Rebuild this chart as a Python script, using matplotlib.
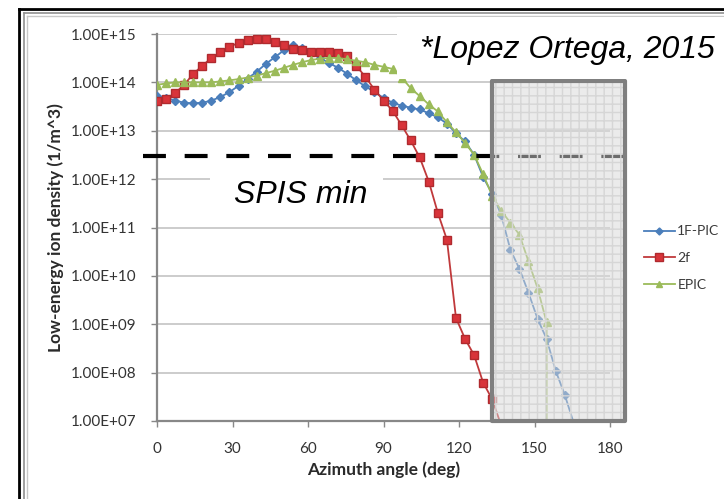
import matplotlib
matplotlib.use("Agg")
import matplotlib.pyplot as plt
from matplotlib.patches import Rectangle
from matplotlib.lines import Line2D
from matplotlib.ticker import FuncFormatter

# azimuth angle (deg), one sample every 3.6 deg
angle = [0.0, 3.6, 7.2, 10.8, 14.4, 18.0, 21.6, 25.2, 28.8, 32.4,
         36.0, 39.6, 43.2, 46.8, 50.4, 54.0, 57.6, 61.2, 64.8, 68.4,
         72.0, 75.6, 79.2, 82.8, 86.4, 90.0, 93.6, 97.2, 100.8, 104.4,
         108.0, 111.6, 115.2, 118.8, 122.4, 126.0, 129.6, 133.2, 136.8, 140.4,
         144.0, 147.6, 151.2, 154.8, 158.4, 162.0, 165.6]

pic_1f = [5.2e13, 4.8e13, 4.2e13, 3.8e13, 3.7e13, 3.8e13, 4.2e13, 5.0e13, 6.3e13, 8.5e13,
          1.2e14, 1.66e14, 2.4e14, 3.3e14, 4.6e14, 5.8e14, 5.2e14, 4.2e14, 3.2e14, 2.5e14,
          2.0e14, 1.5e14, 1.1e14, 8.3e13, 6.3e13, 4.8e13, 3.8e13, 3.3e13, 3.0e13, 2.75e13,
          2.3e13, 1.9e13, 1.4e13, 8.9e12, 6.0e12, 3.2e12, 1.1e12, 5.0e11, 1.8e11, 3.5e10,
          1.4e10, 4.5e9, 1.3e9, 5.0e8, 1.1e8, 3.5e7, 9e6]

fluid_2f = [4.2e13, 4.6e13, 6.0e13, 8.9e13, 1.5e14, 2.2e14, 3.2e14, 4.2e14, 5.4e14, 6.6e14,
            7.6e14, 7.9e14, 7.8e14, 6.9e14, 5.9e14, 5.0e14, 4.6e14, 4.3e14, 4.2e14, 4.2e14,
            4.1e14, 3.5e14, 2.2e14, 1.3e14, 7.1e13, 4.2e13, 2.6e13, 1.3e13, 6.3e12, 2.8e12,
            8.9e11, 2.0e11, 5.6e10, 1.35e9, 5.0e8, 2.3e8, 6.2e7, 2.8e7, 8e6]

epic = [8.9e13, 9.5e13, 1.0e14, 1.0e14, 1.0e14, 1.0e14, 1.0e14, 1.05e14, 1.1e14, 1.17e14,
        1.26e14, 1.38e14, 1.55e14, 1.74e14, 2.0e14, 2.3e14, 2.6e14, 2.9e14, 3.1e14, 3.2e14,
        3.2e14, 3.0e14, 2.8e14, 2.6e14, 2.3e14, 2.1e14, 1.9e14, 1.26e14, 7.6e13, 5.2e13,
        3.5e13, 2.5e13, 1.5e13, 9.3e12, 5.6e12, 3.2e12, 1.26e12, 4.5e11, 2.2e11, 1.26e11,
        7.1e10, 2.0e10, 5.6e9, 1.1e9, 1e4]
epic_angle = angle[:44] + [154.8]

spis_min = 3e12
shade_from = 133.0
series_labels = ["1F-PIC", "2f", "EPIC"]

W, H = 724, 499
fig = plt.figure(figsize=(W / 100, H / 100), dpi=100)

def fx(px):
    return px / W

def fy(py):
    return 1 - py / H

# outer frame lines (black + double gray)
for x, y, c, lw in [(18.5, 8.5, "black", 2.0), (24, 13, "#909090", 1.2), (27, 15.5, "#c8c8c8", 1.0)]:
    fig.add_artist(Line2D([fx(x), fx(x)], [fy(y), 0], color=c, lw=lw))
    fig.add_artist(Line2D([fx(x), 1], [fy(y), fy(y)], color=c, lw=lw))

ax = fig.add_axes([fx(157), fy(421), fx(610 - 157), (421 - 34) / H])

tick_font = dict(family="Lato", size=11, color="#333333")
label_font = dict(family="Lato", size=12.5, weight="bold", color="#2a2a2a")

ax.plot(angle[:len(pic_1f)], pic_1f, color="#4a7ebb", marker="D", ms=4.2, lw=1.3,
        mec="#4a7ebb", zorder=3, label=series_labels[0])
ax.plot(angle[:len(fluid_2f)], fluid_2f, color="#c0393b", marker="s", ms=6, lw=1.3,
        mfc="#d8343a", mec="#b02a2e", zorder=3, label=series_labels[1])
ax.plot(epic_angle, epic, color="#9bbb59", marker="^", ms=5.5, lw=1.3,
        mec="#9bbb59", zorder=3, label=series_labels[2])

ax.set_yscale("log")
ax.set_xlim(0, 180)
ax.set_ylim(1e7, 1e15)
ax.set_xticks(range(0, 181, 30))
ax.set_yticks([10.0 ** k for k in range(7, 16)])
ax.minorticks_off()
ax.yaxis.set_major_formatter(FuncFormatter(lambda v, p: f"{v:.2E}"))
ax.tick_params(axis="both", direction="out", length=4, width=1, color="#888888")
ax.tick_params(axis="y", pad=11)
ax.tick_params(axis="x", pad=11)
for lab in ax.get_xticklabels() + ax.get_yticklabels():
    lab.set_fontfamily(tick_font["family"])
    lab.set_fontsize(tick_font["size"])
    lab.set_color(tick_font["color"])

ax.yaxis.grid(True, color="#cccccc", lw=1.4)
ax.set_axisbelow(True)
for s in ["top", "right"]:
    ax.spines[s].set_visible(False)
for s in ["left", "bottom"]:
    ax.spines[s].set_color("#888888")
    ax.spines[s].set_linewidth(1.6)

ax.set_xlabel("Azimuth angle (deg)", labelpad=4, **label_font)
ax.set_ylabel("Low-energy ion density (1/m^3)", labelpad=5, **label_font)

# SPIS minimum dashed line
ax.plot([-5.6, 186], [spis_min, spis_min], color="black", lw=3, dashes=(5.5, 4.5),
        dash_capstyle="butt", clip_on=False, zorder=4)

# shaded region
top = 1.07e14
ax.add_patch(Rectangle((shade_from, 1e7), 186 - shade_from, top - 1e7,
                       facecolor=(0.85, 0.85, 0.85, 0.5), edgecolor="none",
                       clip_on=False, zorder=5))
ax.add_patch(Rectangle((shade_from, 1e7), 186 - shade_from, top - 1e7,
                       facecolor="none", edgecolor="#d6d6d6", hatch="++", lw=0,
                       clip_on=False, zorder=5))
ax.add_patch(Rectangle((shade_from, 1e7), 186 - shade_from, top - 1e7,
                       facecolor="none", edgecolor="#7f7f7f", lw=3,
                       clip_on=False, zorder=6, joinstyle="round"))

# legend
leg = ax.legend(loc="center left", bbox_to_anchor=(fx(644), fy(258)),
                bbox_transform=fig.transFigure, frameon=False,
                prop=dict(family="Lato", size=10), labelcolor="#3a3a3a",
                handlelength=2.2, handletextpad=0.2, labelspacing=1.05,
                borderpad=0, borderaxespad=0, markerscale=0.85)

# annotation boxes
fig.add_artist(Rectangle((fx(397), fy(79)), fx(724 - 397), (79 - 17) / H,
                         facecolor="white", edgecolor="none", zorder=10))
fig.text(fx(567), fy(50), "*Lopez Ortega, 2015", ha="center", va="center",
         family="Liberation Sans", style="italic", size=23, zorder=11)

fig.add_artist(Rectangle((fx(210), fy(224)), fx(383 - 210), (224 - 176) / H,
                         facecolor="white", edgecolor="none", zorder=10))
fig.text(fx(301), fy(195), "SPIS min", ha="center", va="center",
         family="Liberation Sans", style="italic", size=23, zorder=11)

fig.savefig("out.png", dpi=100)
